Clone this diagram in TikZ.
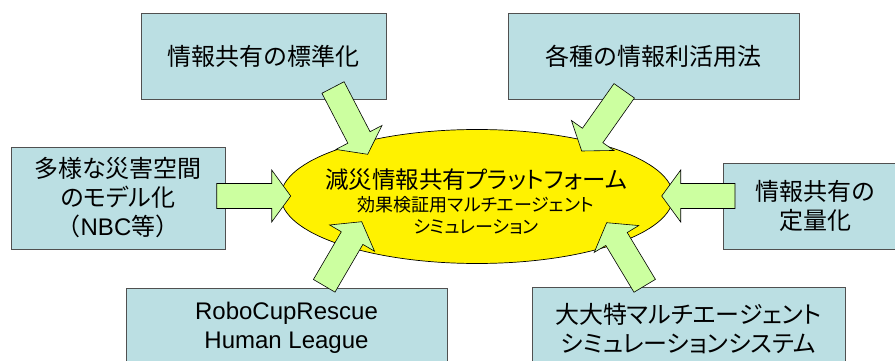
\documentclass[tikz,border=0pt]{standalone}
\usepackage{fontspec}
\setmainfont{Liberation Sans}
\newfontfamily\jp[RawFeature=+palt]{Noto Sans CJK JP}
\newfontfamily\jpf{Noto Sans CJK JP}
\newfontfamily\lat{Liberation Sans}
\usetikzlibrary{calc,shapes.geometric}
\definecolor{boxfill}{RGB}{187,223,227}
\definecolor{boxline}{RGB}{80,80,80}
\definecolor{arrfill}{RGB}{204,255,160}
\tikzset{
  infobox/.style={draw=boxline, fill=boxfill, line width=0.9pt, rectangle, align=center, inner sep=0pt, font=\jp\fontsize{24}{29}\selectfont},
  platform/.style={draw=black, fill=yellow, ellipse, line width=0.7pt, inner sep=0pt},
  barrow/.style={draw=black, fill=arrfill, line width=0.6pt, line join=miter},
}
\newcommand\blockarrow[3]{%
  \coordinate (#1b) at ($(#3)!19pt!(#2)$);
  \path[barrow] ($(#2)!12.5pt!90:(#3)$) -- ($(#1b)!12.5pt!90:(#3)$) -- ($(#1b)!26pt!90:(#3)$) -- (#3) -- ($(#1b)!26pt!-90:(#3)$) -- ($(#1b)!12.5pt!-90:(#3)$) -- ($(#2)!12.5pt!-90:(#3)$) -- cycle;
}
\begin{document}
\begin{tikzpicture}[x=1pt,y=-1pt]
\path[use as bounding box] (0,0) rectangle (895,361);
\clip (0,0) rectangle (895,361);
% boxes
\node[infobox, minimum width=245pt, minimum height=86pt] (std) at (263.5,56) {情報共有の標準化};
\node[infobox, minimum width=291pt, minimum height=86pt] (use) at (653.5,56) {各種の情報利活用法};
\node[infobox, minimum width=214pt, minimum height=102pt] (model) at (118,198) {多様な災害空間\\のモデル化\\{\jpf （}{\lat NBC}{\jpf 等）}};
\node[infobox, minimum width=184pt, minimum height=86pt] (quant) at (815,206) {情報共有の\\定量化};
\node[infobox, minimum width=321pt, minimum height=80pt, font=\lat\fontsize{24}{29}\selectfont] (robo) at (286.5,328) {RoboCupRescue\\Human League};
\node[infobox, minimum width=313pt, minimum height=84pt] (dai) at (688.5,329) {大大特マルチエージェント\\シミュレーションシステム};
% platform
\node[platform, minimum width=392pt, minimum height=134pt] (pf) at (477,196.5) {};
\node[align=center, inner sep=0pt, font=\jp\fontsize{18}{22.5}\selectfont] (pft) at (476,202) {{\fontsize{23.5}{25}\selectfont 減災情報共有プラットフォーム}\\効果検証用マルチエージェント\\シミュレーション};
% arrows
\coordinate (a1t) at (333,87.5);   \coordinate (a1h) at (367.7,154.3);
\coordinate (a2t) at (624.2,90.8); \coordinate (a2h) at (581.7,151);
\coordinate (a3t) at (216.7,196);  \coordinate (a3h) at (290.7,196);
\coordinate (a4t) at (735,196);    \coordinate (a4h) at (661.7,196);
\coordinate (a5t) at (324.2,285.8);\coordinate (a5h) at (361.7,221.7);
\coordinate (a6t) at (644.7,285.8);\coordinate (a6h) at (606.7,222.7);
\blockarrow{a1}{a1t}{a1h}
\blockarrow{a2}{a2t}{a2h}
\blockarrow{a3}{a3t}{a3h}
\blockarrow{a4}{a4t}{a4h}
\blockarrow{a5}{a5t}{a5h}
\blockarrow{a6}{a6t}{a6h}
\end{tikzpicture}
\end{document}
